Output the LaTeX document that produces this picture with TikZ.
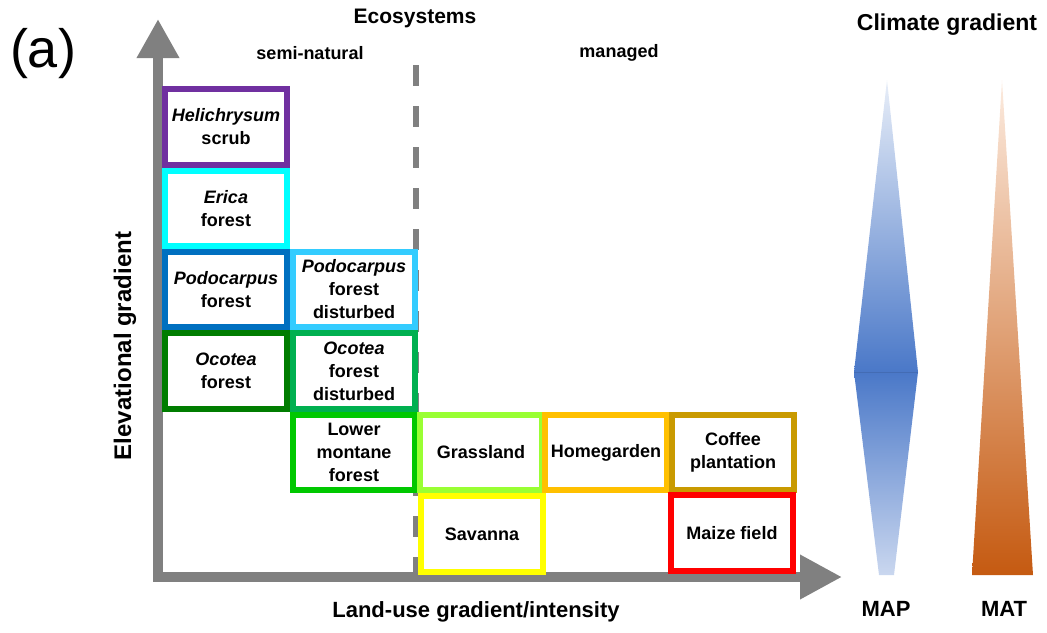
\documentclass[tikz,border=0pt]{standalone}
\usepackage{fontspec}
\setmainfont{Liberation Sans}
\usepackage{tikz}
\usetikzlibrary{arrows.meta}
\usepackage{xcolor}

\definecolor{axisgray}{HTML}{808080}
\definecolor{helipurple}{HTML}{7030A0}
\definecolor{ericacyan}{HTML}{00FFFF}
\definecolor{podoblue}{HTML}{0070C0}
\definecolor{podolight}{HTML}{33CCFF}
\definecolor{ocoteagreen}{HTML}{007D00}
\definecolor{ocoteadist}{HTML}{00B050}
\definecolor{montanegreen}{HTML}{00C800}
\definecolor{grassgreen}{HTML}{99FF33}
\definecolor{homeorange}{HTML}{FFC000}
\definecolor{coffeegold}{HTML}{C99A00}
\definecolor{savyellow}{HTML}{FFFF00}
\definecolor{maizered}{HTML}{FF0000}
\definecolor{maptop}{HTML}{E8EEF8}
\definecolor{mapmid}{HTML}{4A78C8}
\definecolor{mapbot}{HTML}{CAD7EF}
\definecolor{mattop}{HTML}{FCEBDF}
\definecolor{matbot}{HTML}{C55A11}

\begin{document}
\begin{tikzpicture}[x=1pt, y=-1pt,
  eco/.style={draw=#1, line width=6pt, minimum width=122pt, minimum height=75.5pt,
    inner sep=0pt, align=center, font=\fontsize{18}{23}\selectfont\bfseries},
  lab/.style={font=\fontsize{#1}{#1}\selectfont\bfseries}]
\useasboundingbox (0,0) rectangle (1047,632);

% axes
\coordinate (ytip) at (158,19);
\coordinate (orig) at (158,577);
\coordinate (xtip) at (842,577);
\draw[axisgray, line width=10pt, line join=miter,
  {Triangle[width=40pt,length=39pt]}-{Triangle[width=42pt,length=42pt]}] (ytip)--(orig)--(xtip);

\coordinate (dash_top) at (416,65);
\coordinate (dash_bot) at (416,577);
\draw[axisgray, line width=6pt, dash pattern=on 21pt off 20pt] (dash_top)--(dash_bot);

\node[lab=21] (ecosystems) at (415,18) {Ecosystems};
\node[lab=18] (seminatural) at (310,53) {semi-natural};
\node[lab=18] (managed) at (619,53) {managed};
\node[font=\fontsize{54}{54}\selectfont] (panel) at (43,54) {(a)};
\node[lab=24, rotate=90] (elevation) at (125,346) {Elevational gradient};
\node[lab=22] (landuse) at (476,612) {Land-use gradient/intensity};

% semi-natural
\node[eco=helipurple] (helichrysum) at (226,127) {\textit{Helichrysum}\\scrub};
\node[eco=ericacyan] (erica) at (226,208.5) {\textit{Erica}\\forest};
\node[eco=podoblue] (podo) at (226,289.5) {\textit{Podocarpus}\\forest};
\node[eco=podolight] (podo_dist) at (354,289.5) {\textit{Podocarpus}\\forest\\disturbed};
\node[eco=ocoteagreen] (ocotea) at (226,371) {\textit{Ocotea}\\forest};
\node[eco=ocoteadist] (ocotea_dist) at (354,371) {\textit{Ocotea}\\forest\\disturbed};
\node[eco=montanegreen] (lower_montane) at (354,452.5) {Lower\\montane\\forest};

% managed
\node[eco=grassgreen] (grassland) at (481,452.5) {Grassland};
\node[eco=homeorange] (homegarden) at (606,452.5) {Homegarden};
\node[eco=coffeegold] (coffee) at (733,452.5) {Coffee\\plantation};
\node[eco=savyellow] (savanna) at (482,534) {Savanna};
\node[eco=maizered] (maize) at (732,533) {Maize field};

% climate
\node[lab=23] (climate) at (947,25) {Climate gradient};
\shade[top color=maptop, bottom color=mapmid] (887,80)--(918,372)--(854,372)--cycle;
\shade[top color=mapmid, bottom color=mapbot] (854,372)--(918,372)--(894,575)--(879,575)--cycle;
\draw[mapmid!90!black, line width=0.8pt] (854,372)--(918,372);
\shade[top color=mattop, bottom color=matbot] (1002,80)--(1033,575)--(972,575)--cycle;
\node[lab=22] (map) at (886,609) {MAP};
\node[lab=22] (mat) at (1004,609) {MAT};
\end{tikzpicture}
\end{document}
